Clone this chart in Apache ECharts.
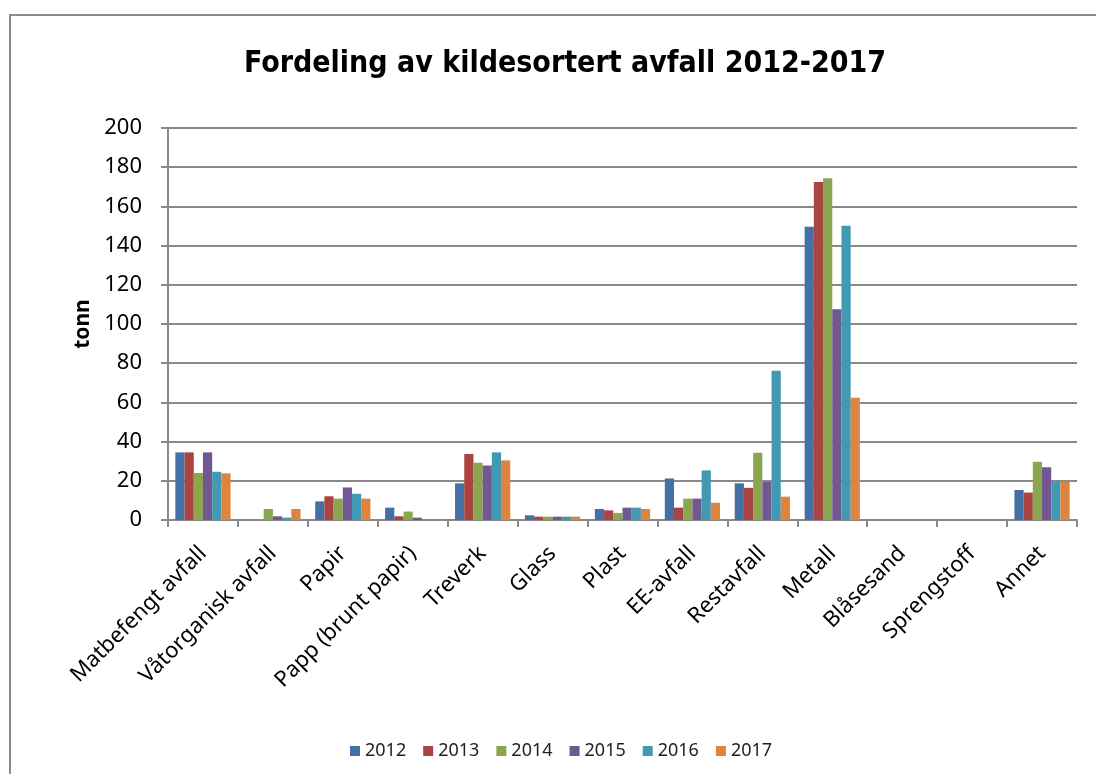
<!DOCTYPE html>
<html>
<head>
<meta charset="utf-8">
<script src="https://cdn.jsdelivr.net/npm/echarts@6/dist/echarts.min.js"></script>
<style>
html,body{margin:0;padding:0;background:#fff;}
#chart{width:1096px;height:774px;}
</style>
</head>
<body>
<div id="chart"></div>
<script>
const categories = ['Matbefengt avfall','Våtorganisk avfall','Papir','Papp (brunt papir)','Treverk','Glass','Plast','EE-avfall','Restavfall','Metall','Blåsesand','Sprengstoff','Annet'];
const years = ['2012','2013','2014','2015','2016','2017'];
const v2012 = [34.5, 0, 9.5, 6.3, 18.7, 2.4, 5.6, 21.2, 18.7, 149.6, 0, 0, 15.3];
const v2013 = [34.5, 0, 12.1, 1.9, 33.7, 1.7, 4.9, 6.3, 16.4, 172.5, 0, 0, 14.0];
const v2014 = [24.0, 5.6, 10.9, 4.3, 29.2, 1.7, 3.6, 10.9, 34.3, 174.4, 0, 0, 29.7];
const v2015 = [34.5, 1.9, 16.6, 1.2, 27.8, 1.7, 6.3, 10.9, 19.4, 107.5, 0, 0, 26.9];
const v2016 = [24.6, 1.2, 13.4, 0, 34.5, 1.7, 6.3, 25.3, 76.2, 150.1, 0, 0, 19.6];
const v2017 = [23.8, 5.6, 10.9, 0, 30.4, 1.7, 5.6, 8.8, 11.9, 62.4, 0, 0, 19.6];
const yTicks = [0,20,40,60,80,100,120,140,160,180,200];

const seriesValues = [v2012, v2013, v2014, v2015, v2016, v2017];
const colors = ['#4470a5','#a94442','#8aa64e','#715893','#4299b2','#dd843f'];
const axisGray = '#898989';
const font = '"Noto Sans", "Open Sans", sans-serif';

const chart = echarts.init(document.getElementById('chart'), null, {renderer:'canvas'});
chart.setOption({
  animation: false,
  color: colors,
  graphic: [{
    type: 'rect', shape: {x: 10, y: 15, width: 1200, height: 900},
    style: {fill: 'none', stroke: '#8c8c8c', lineWidth: 2}, z: -1
  }],
  title: {
    text: 'Fordeling av kildesortert avfall 2012-2017',
    left: 560, top: 44, textAlign: 'center',
    textStyle: {fontFamily: '"DejaVu Sans Condensed", "DejaVu Sans", sans-serif', fontWeight: 'bold', fontSize: 30, color: '#000'}
  },
  legend: {
    left: 345, top: 737,
    itemWidth: 10, itemHeight: 10, itemGap: 17,
    icon: 'rect',
    textStyle: {fontFamily: font, fontSize: 18, color: '#222'},
    data: years
  },
  grid: {left: 168, right: 19, top: 128, bottom: 254, containLabel: false},
  xAxis: {
    type: 'category', data: categories,
    axisLine: {lineStyle: {color: axisGray, width: 2}},
    axisTick: {show: true, length: 7, lineStyle: {color: axisGray, width: 2}},
    axisLabel: {interval: 0, rotate: 45, margin: 30, fontFamily: font, fontSize: 22, color: '#000'}
  },
  yAxis: {
    type: 'value', min: 0, max: 200, interval: 20,
    name: 'tonn', nameLocation: 'middle', nameGap: 72, nameRotate: 90,
    nameTextStyle: {fontFamily: font, fontWeight: 'bold', fontSize: 21, color: '#000'},
    axisLine: {show: true, lineStyle: {color: axisGray, width: 2}},
    axisTick: {show: true, length: 7, lineStyle: {color: axisGray, width: 2}},
    splitLine: {lineStyle: {color: axisGray, width: 2}},
    axisLabel: {margin: 26, fontFamily: font, fontSize: 22, color: '#000',
      formatter: v => yTicks.includes(v) ? String(v) : ''}
  },
  series: years.map((y, i) => ({
    name: y, type: 'bar', data: seriesValues[i],
    barGap: '0%', barCategoryGap: '21%',
    itemStyle: {color: colors[i]}
  }))
});
</script>
</body>
</html>
